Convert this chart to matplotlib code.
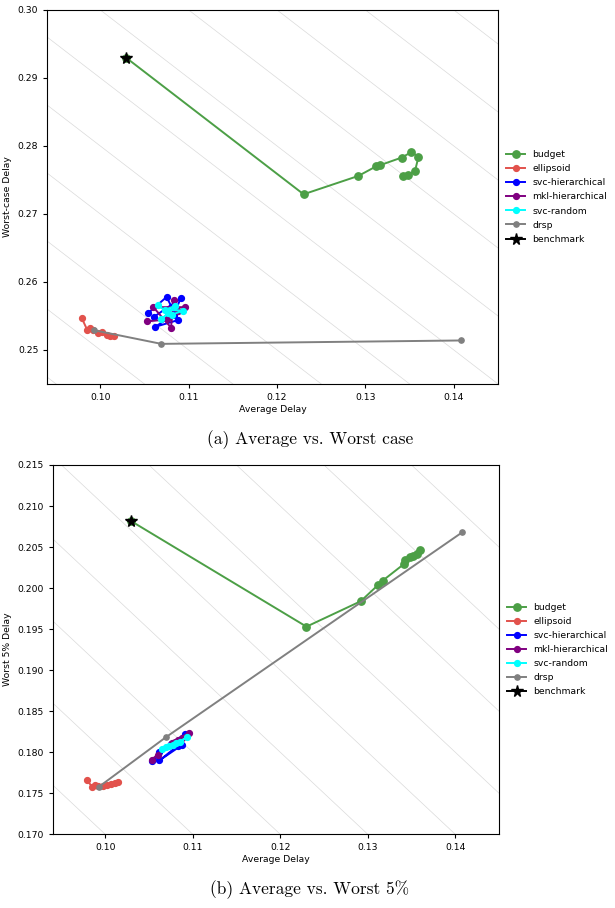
import numpy as np
import matplotlib
matplotlib.use("Agg")
import matplotlib.pyplot as plt

# ---------------- data ----------------
benchmark_x = [0.1029]
benchmark_worst = [0.2930]
benchmark_w5 = [0.2082]

budget_x = [0.1029, 0.1230, 0.1292, 0.1312, 0.1317, 0.1341, 0.1352, 0.1360, 0.1356, 0.1348, 0.1343]
budget_worst = [0.2930, 0.2729, 0.2756, 0.2770, 0.2772, 0.2783, 0.2791, 0.2784, 0.2763, 0.2757, 0.2756]
budget_w5 = [0.2082, 0.1953, 0.1984, 0.2004, 0.2009, 0.2029, 0.2039, 0.2047, 0.2042, 0.2038, 0.2034]

ellipsoid_x = [0.0979, 0.0985, 0.0988, 0.0992, 0.0997, 0.1002, 0.1007, 0.1011, 0.1015]
ellipsoid_worst = [0.2547, 0.2530, 0.2533, 0.2530, 0.2525, 0.2526, 0.2522, 0.2521, 0.2521]
ellipsoid_w5 = [0.1766, 0.1758, 0.1760, 0.1759, 0.1759, 0.1760, 0.1761, 0.1762, 0.1764]

svch_x = [0.1054, 0.1075, 0.1088, 0.1062, 0.1083, 0.1091, 0.1061]
svch_worst = [0.2554, 0.2578, 0.2544, 0.2534, 0.2552, 0.2576, 0.2549]
svch_w5 = [0.1789, 0.1810, 0.1809, 0.1790, 0.1808, 0.1822, 0.1800]

mklh_x = [0.1053, 0.1076, 0.1096, 0.1060, 0.1080, 0.1083, 0.1088]
mklh_worst = [0.2542, 0.2545, 0.2563, 0.2563, 0.2533, 0.2574, 0.2558]
mklh_w5 = [0.1791, 0.1811, 0.1824, 0.1797, 0.1813, 0.1815, 0.1817]

svcr_x = [0.1065, 0.1077, 0.1069, 0.1085, 0.1073, 0.1094, 0.1081]
svcr_worst = [0.2566, 0.2554, 0.2545, 0.2565, 0.2559, 0.2558, 0.2552]
svcr_w5 = [0.1804, 0.1809, 0.1806, 0.1813, 0.1807, 0.1818, 0.1811]

drsp_x = [0.0993, 0.1069, 0.1408]
drsp_worst = [0.2529, 0.2509, 0.2514]
drsp_w5 = [0.1758, 0.1818, 0.2068]

top_yticks = [0.25, 0.26, 0.27, 0.28, 0.29, 0.30]
bot_yticks = [0.170, 0.175, 0.180, 0.185, 0.190, 0.195, 0.200, 0.205, 0.210, 0.215]
xticks = [0.10, 0.11, 0.12, 0.13, 0.14]

FS = 6.7

fig = plt.figure(figsize=(6.15, 9.08), dpi=100)
ax1 = fig.add_axes([0.0769, 0.5771, 0.7329, 0.4119])
ax2 = fig.add_axes([0.0857, 0.0812, 0.7257, 0.4067])


def draw(ax, ykey, ylim, yticks, ylabel, cvals):
    for c in cvals:
        ax.axline((0.0, c), slope=-1, color="#dadada", lw=0.5, zorder=0)
    series = [
        ("budget", budget_x, budget_worst, budget_w5, dict(color="#4c9f46", marker="o", ms=5.3, lw=1.4)),
        ("ellipsoid", ellipsoid_x, ellipsoid_worst, ellipsoid_w5, dict(color="#e2524c", marker="o", ms=4.2, lw=1.4)),
        ("svc-hierarchical", svch_x, svch_worst, svch_w5, dict(color="blue", marker="o", ms=4.2, lw=1.4)),
        ("mkl-hierarchical", mklh_x, mklh_worst, mklh_w5, dict(color="purple", marker="o", ms=4.2, lw=1.4)),
        ("svc-random", svcr_x, svcr_worst, svcr_w5, dict(color="cyan", marker="o", ms=4.2, lw=1.4)),
        ("drsp", drsp_x, drsp_worst, drsp_w5, dict(color="gray", marker="o", ms=3.8, lw=1.4)),
        ("benchmark", benchmark_x, benchmark_worst, benchmark_w5, dict(color="black", marker="*", ms=8.5, lw=1.4)),
    ]
    for name, x, yw, y5, kw in series:
        y = yw if ykey == "worst" else y5
        ax.plot(x, y, label=name, **kw)
    ax.set_xlim(0.094, 0.145)
    ax.set_ylim(*ylim)
    ax.set_xticks(xticks)
    ax.set_yticks(yticks)
    ax.tick_params(labelsize=FS, length=3)
    ax.set_xlabel("Average Delay", fontsize=FS, labelpad=2)
    ax.set_ylabel(ylabel, fontsize=FS, labelpad=4)
    ax.legend(loc="center left", bbox_to_anchor=(1.0, 0.5), frameon=False, fontsize=FS,
              handlelength=2.0, labelspacing=0.55)


draw(ax1, "worst", (0.245, 0.30), top_yticks, "Worst-case Delay", np.arange(0.34, 0.445, 0.01))
ax1.yaxis.set_major_formatter(matplotlib.ticker.FormatStrFormatter("%.2f"))
draw(ax2, "w5", (0.170, 0.215), bot_yticks, "Worst 5% Delay", np.arange(0.27, 0.365, 0.01))
ax2.yaxis.set_major_formatter(matplotlib.ticker.FormatStrFormatter("%.3f"))
for ax in (ax1, ax2):
    ax.xaxis.set_major_formatter(matplotlib.ticker.FormatStrFormatter("%.2f"))

fig.text(310 / 615, 1 - 440 / 908, "(a) Average vs. Worst case", family=["cmr10", "DejaVu Serif"],
         fontsize=12.5, ha="center", va="center")
fig.text(310 / 615, 1 - 890 / 908, "(b) Average vs. Worst 5%", family=["cmr10", "DejaVu Serif"],
         fontsize=12.5, ha="center", va="center")

fig.savefig("out.png", dpi=100)
